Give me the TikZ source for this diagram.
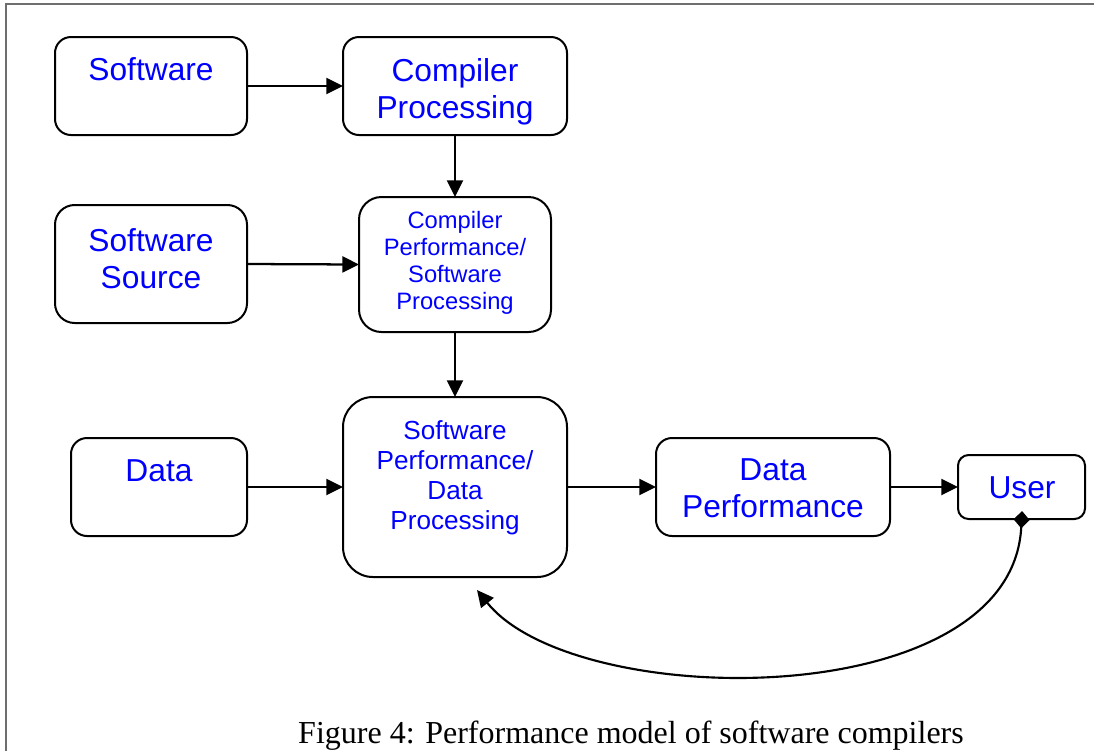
\documentclass[tikz,border=0pt]{standalone}
\usepackage{fontspec}
\setmainfont{Liberation Serif}
\newfontfamily\arialfont{Liberation Sans}
\usetikzlibrary{arrows.meta}

\definecolor{framegray}{RGB}{110,110,110}
\definecolor{labelblue}{RGB}{0,0,255}

\tikzset{
  procbox/.style={draw=black, line width=1.5pt, inner sep=0pt, outer sep=0pt},
  bigtext/.style={text=labelblue, inner sep=0pt, align=center,
    font=\arialfont\fontsize{23.8pt}{27.75pt}\selectfont},
  smalltext/.style={text=labelblue, inner sep=0pt, align=center,
    font=\arialfont\fontsize{17.8pt}{20.25pt}\selectfont},
  midtext/.style={text=labelblue, inner sep=0pt, align=center,
    font=\arialfont\fontsize{19.6pt}{22.5pt}\selectfont},
  headtip/.style={-{Triangle[length=12.5pt,width=12pt]}},
  flow/.style={line width=1.7pt, headtip},
}

\begin{document}
\begin{tikzpicture}[x=0.75pt, y=-0.75pt]
\useasboundingbox (0,0) rectangle (1094,751);

% page frame
\draw[framegray, line width=1.3pt] (6,751) -- (6,4) -- (1094,4);

% boxes
\node[procbox, minimum width=144pt, minimum height=73.5pt, rounded corners=12pt] (sw) at (151,86) {};
\node[procbox, minimum width=168pt, minimum height=73.5pt, rounded corners=12pt] (cp) at (455,86) {};
\node[procbox, minimum width=144pt, minimum height=88.5pt, rounded corners=14.75pt] (ss) at (151,264) {};
\node[procbox, minimum width=144pt, minimum height=101.25pt, rounded corners=16.9pt] (cpsp) at (455,264.5) {};
\node[procbox, minimum width=132pt, minimum height=73.5pt, rounded corners=12pt] (dt) at (159,487) {};
\node[procbox, minimum width=168pt, minimum height=135pt, rounded corners=22.5pt] (spdp) at (455,487) {};
\node[procbox, minimum width=175.5pt, minimum height=73.5pt, rounded corners=12pt] (dp) at (773,487) {};
\node[procbox, minimum width=95.25pt, minimum height=48pt, rounded corners=8pt] (us) at (1021.5,487) {};

% labels
\node[bigtext] (swt) at (151,69.5) {Software};
\node[bigtext] (cpt) at (455,91.9) {Compiler\\Processing};
\node[bigtext] (sst) at (151,258.5) {Software\\Source};
\node[smalltext] (cpspt) at (455,262.4) {Compiler\\Performance/\\Software\\Processing};
\node[bigtext] (dtt) at (159,471) {Data};
\node[midtext] (spdpt) at (455,478) {Software\\Performance/\\Data\\Processing};
\node[bigtext] (dpt) at (773,488) {Data\\Performance};
\node[bigtext] (ust) at (1022,487.5) {User};

% connectors
\draw[flow] (sw.east) -- (cp.west);
\draw[flow] (cp.south) -- (cpsp.north);
\draw[flow] (ss.east) -- (cpsp.west);
\draw[flow] (cpsp.south) -- (spdp.north);
\draw[flow] (dt.east) -- (spdp.west);
\draw[flow] (spdp.east) -- (dp.west);
\draw[flow] (dp.east) -- (us.west);

% feedback from the user
\coordinate (ufoot) at ([xshift=0.4pt, yshift=6pt]us.south);
\coordinate (back) at (477,590);
\draw[line width=1.6pt, {Diamond[length=13pt,width=12pt]}-{Triangle[length=12.5pt,width=12pt]}]
  (ufoot) .. controls (1012,715) and (575,712) .. (back);

% caption
\node[font=\fontsize{24pt}{28pt}\selectfont, inner sep=0pt] (cap) at (631,735.5)
  {Figure 4: Performance model of software compilers};
\end{tikzpicture}
\end{document}
